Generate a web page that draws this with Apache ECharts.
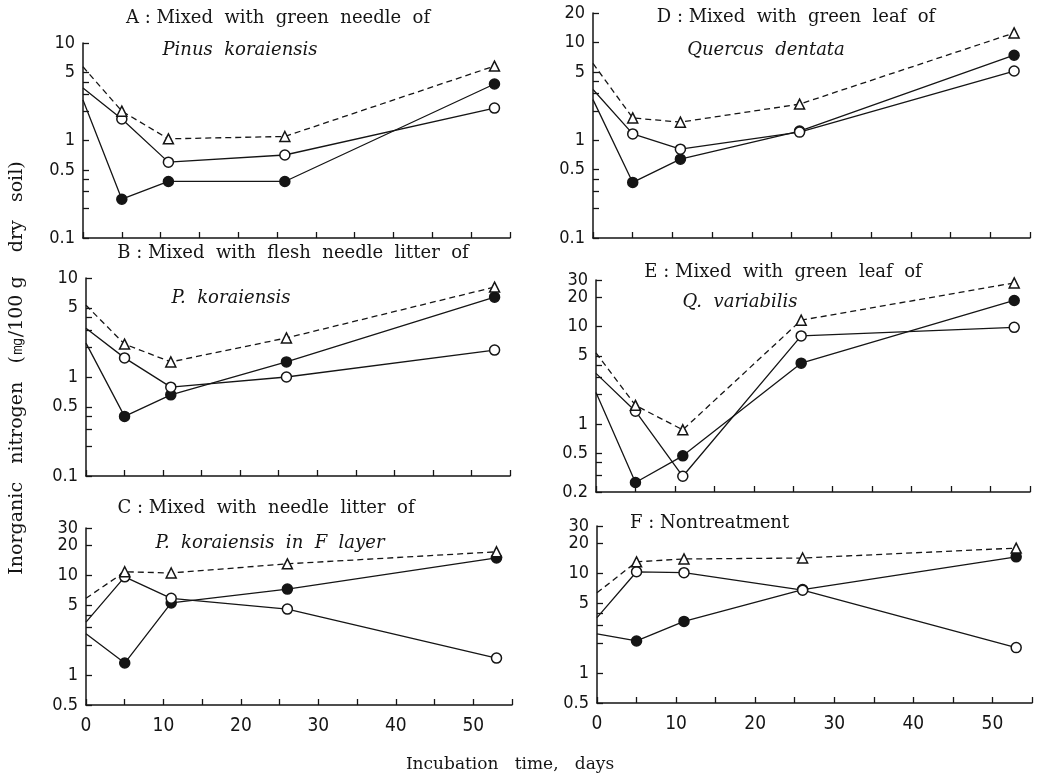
<!DOCTYPE html>
<html>
<head>
<meta charset="utf-8">
<script src="https://cdn.jsdelivr.net/npm/echarts@6.0.0/dist/echarts.min.js"></script>
<style>
html, body { margin: 0; padding: 0; background: #fff; }
#chart { width: 1037px; height: 776px; }
</style>
</head>
<body>
<div id="chart"></div>
<script>
// 채취일 (incubation days)
var days = [0, 5, 11, 26, 53];

// A : green needle of Pinus koraiensis
var aFilled = [2.6, 0.25, 0.38, 0.38, 3.8];
var aOpen   = [3.45, 1.66, 0.6, 0.71, 2.15];
var aTri    = [5.7, 2.0, 1.04, 1.1, 5.8];
// B : flesh needle litter of P. koraiensis
var bFilled = [2.2, 0.4, 0.66, 1.42, 6.4];
var bOpen   = [3.1, 1.56, 0.79, 1.0, 1.87];
var bTri    = [5.3, 2.15, 1.42, 2.48, 8.1];
// C : needle litter of P. koraiensis in F layer
var cFilled = [2.6, 1.32, 5.3, 7.3, 15];
var cOpen   = [3.4, 9.7, 5.9, 4.6, 1.48];
var cTri    = [5.9, 10.9, 10.6, 13.1, 17.3];
// D : green leaf of Quercus dentata
var dFilled = [2.6, 0.37, 0.64, 1.24, 7.4];
var dOpen   = [3.3, 1.16, 0.81, 1.21, 5.1];
var dTri    = [6.1, 1.69, 1.53, 2.34, 12.5];
// E : green leaf of Q. variabilis
var eFilled = [2.1, 0.25, 0.47, 4.2, 18.5];
var eOpen   = [3.3, 1.35, 0.29, 8.0, 9.8];
var eTri    = [5.35, 1.55, 0.87, 11.6, 28];
// F : Nontreatment
var fFilled = [2.47, 2.1, 3.3, 6.9, 14.7];
var fOpen   = [3.6, 10.4, 10.2, 6.8, 1.8];
var fTri    = [6.4, 13.1, 14, 14.3, 18];

// y축 눈금 / 라벨
var ticks01_10 = [0.1, 0.2, 0.3, 0.4, 0.5, 1, 2, 3, 4, 5, 10];
var labels01_10 = [0.1, 0.5, 1, 5, 10];
var ticks01_20 = [0.1, 0.2, 0.3, 0.4, 0.5, 1, 2, 3, 4, 5, 10, 20];
var labels01_20 = [0.1, 0.5, 1, 5, 10, 20];
var ticks02_30 = [0.2, 0.3, 0.4, 0.5, 1, 2, 3, 4, 5, 10, 20, 30];
var labels02_30 = [0.2, 0.5, 1, 5, 10, 30];
var ticks05_30 = [0.5, 1, 2, 3, 4, 5, 10, 20, 30];
var labels05_30 = [0.5, 1, 5, 10, 30];
var labels20 = [20]; // 30 바로 아래 라벨 (겹침 숨김 방지용 별도 축)
var xLabels = [0, 10, 20, 30, 40, 50];

var panels = [
	{ left: 83,  top: 43,  width: 427, height: 195, min: 0.1, max: 10, ticks: ticks01_10, labels: labels01_10, extra: null, s: [aFilled, aOpen, aTri], xlab: false },
	{ left: 86,  top: 278, width: 424, height: 198, min: 0.1, max: 10, ticks: ticks01_10, labels: labels01_10, extra: null, s: [bFilled, bOpen, bTri], xlab: false },
	{ left: 86,  top: 528, width: 426, height: 177, min: 0.5, max: 30, ticks: ticks05_30, labels: labels05_30, extra: labels20, s: [cFilled, cOpen, cTri], xlab: true },
	{ left: 593, top: 13,  width: 437, height: 225, min: 0.1, max: 20, ticks: ticks01_20, labels: labels01_20, extra: null, s: [dFilled, dOpen, dTri], xlab: false },
	{ left: 596, top: 280, width: 434, height: 212, min: 0.2, max: 30, ticks: ticks02_30, labels: labels02_30, extra: labels20, s: [eFilled, eOpen, eTri], xlab: false },
	{ left: 597, top: 526, width: 435, height: 177, min: 0.5, max: 30, ticks: ticks05_30, labels: labels05_30, extra: labels20, s: [fFilled, fOpen, fTri], xlab: true }
];

var INK = '#151515';
var tickFont = '"Liberation Sans Narrow", "DejaVu Sans Condensed", sans-serif';
var serif = '"DejaVu Serif", "Liberation Serif", serif';

function toPoints(vals) { // day 0 은 마커 없이 선만 시작
	return days.map(function (d, k) {
		var item = { value: [d, vals[k]] };
		if (k == 0) item.symbol = 'none';
		return item;
	});
}

function labelAxis(i, p, labels, drawLine, ticks) { // log10 공간의 눈금/라벨 표시용 축
	return {
		type: 'value', gridIndex: i, position: 'left',
		min: Math.log10(p.min), max: Math.log10(p.max),
		axisLine: { show: drawLine, onZero: false, lineStyle: { color: INK, width: 1.5 } },
		axisTick: {
			show: !!ticks, inside: true, length: 6,
			customValues: ticks ? ticks.map(function (t) { return Math.log10(t); }) : [],
			lineStyle: { color: INK, width: 1.3 }
		},
		axisLabel: {
			show: true, customValues: labels.map(function (t) { return Math.log10(t); }),
			margin: 8, color: INK, fontSize: 18, fontFamily: tickFont,
			showMinLabel: true, showMaxLabel: true, hideOverlap: false,
			formatter: function (v) {
				for (var k = 0; k < labels.length; k++) {
					if (Math.abs(Math.log10(labels[k]) - v) < 1e-6) return String(labels[k]);
				}
				return '';
			}
		},
		splitLine: { show: false }
	};
}

var grids = [], xAxes = [], yAxes = [], series = [];

panels.forEach(function (p, i) {
	grids.push({ left: p.left, top: p.top, width: p.width, height: p.height });

	xAxes.push({
		type: 'value', gridIndex: i, min: 0, max: 55, interval: 5,
		axisLine: { onZero: false, lineStyle: { color: INK, width: 1.5 } },
		axisTick: { inside: true, length: 6, lineStyle: { color: INK, width: 1.3 } },
		axisLabel: {
			show: p.xlab, margin: 12, color: INK, fontSize: 19, fontFamily: tickFont,
			formatter: function (v) { return xLabels.indexOf(v) >= 0 ? String(v) : ''; }
		},
		splitLine: { show: false }
	});

	// 실제 데이터용 로그축 (숨김)
	var dataAxisIndex = yAxes.length;
	yAxes.push({ type: 'log', logBase: 10, gridIndex: i, min: p.min, max: p.max, show: false });

	yAxes.push(labelAxis(i, p, p.labels, true, p.ticks));
	if (p.extra) yAxes.push(labelAxis(i, p, p.extra, false, null));

	var styles = [
		{ symbol: 'circle', size: 10, fill: INK, dash: 'solid' },
		{ symbol: 'circle', size: 10, fill: '#fff', dash: 'solid' },
		{ symbol: 'triangle', size: 10, fill: '#fff', dash: [6, 4] }
	];
	p.s.forEach(function (vals, j) {
		var st = styles[j];
		series.push({
			type: 'line', xAxisIndex: i, yAxisIndex: dataAxisIndex,
			data: toPoints(vals),
			symbol: st.symbol, symbolSize: st.size, showAllSymbol: true,
			itemStyle: { color: st.fill, borderColor: INK, borderWidth: 1.5 },
			lineStyle: { color: INK, width: 1.3, type: st.dash },
			z: 3 + j, silent: true
		});
	});
});

function txt(x, y, text, size, italic, align) {
	return {
		type: 'text', x: x, y: y, silent: true,
		style: {
			text: text, fill: INK,
			font: (italic ? 'italic ' : '') + size + 'px ' + serif,
			align: align || 'center', verticalAlign: 'middle',
			textAlign: align || 'center', textVerticalAlign: 'middle'
		}
	};
}

var graphics = [
	txt(278, 18, 'A : Mixed  with  green  needle  of', 18, false),
	txt(240, 50, 'Pinus  koraiensis', 18, true),
	txt(293, 253, 'B : Mixed  with  flesh  needle  litter  of', 18, false),
	txt(231, 298, 'P.  koraiensis', 18, true),
	txt(266, 508, 'C : Mixed  with  needle  litter  of', 18, false),
	txt(270, 543, 'P.  koraiensis  in  F  layer', 18, true),
	txt(796, 17, 'D : Mixed  with  green  leaf  of', 18, false),
	txt(766, 50, 'Quercus  dentata', 18, true),
	txt(783, 272, 'E : Mixed  with  green  leaf  of', 18, false),
	txt(740, 302, 'Q.  variabilis', 18, true),
	txt(630, 523, 'F : Nontreatment', 18, false, 'left'),
	txt(510, 765, 'Incubation   time,   days', 17, false)
];
var yTitle = txt(0, 0, 'Inorganic   nitrogen   (㎎/100 g    dry   soil)', 19, false);
yTitle.x = 17; yTitle.y = 368; yTitle.rotation = Math.PI / 2;
graphics.push(yTitle);

var myChart = echarts.init(document.getElementById('chart'), null, { renderer: 'canvas' });
myChart.setOption({
	animation: false,
	backgroundColor: '#fff',
	grid: grids,
	xAxis: xAxes,
	yAxis: yAxes,
	series: series,
	graphic: graphics
});
</script>
</body>
</html>
